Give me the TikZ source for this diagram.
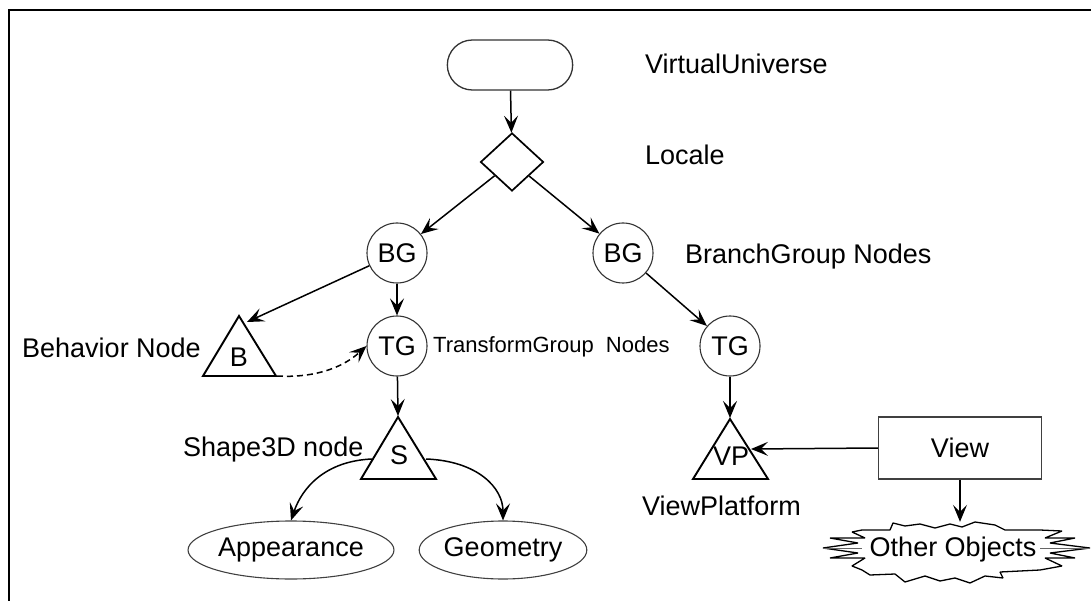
\documentclass[tikz,border=0pt]{standalone}
\usepackage{fontspec}
\setmainfont{Liberation Sans}
\usetikzlibrary{shapes.geometric,shapes.misc,arrows.meta}
\tikzset{
  big/.style={font=\fontsize{27}{32}\selectfont},
  small/.style={font=\fontsize{22}{26}\selectfont},
  grp/.style={circle, draw=black!80, line width=1.1pt, minimum size=60pt, inner sep=0pt, big},
  lbl/.style={anchor=west, big, inner sep=0pt},
  tri/.style={draw=black, line width=1.9pt, line join=miter},
  edge/.style={draw=black, line width=1.5pt, -{Stealth[length=17pt,width=14pt,inset=7pt]}},
  comp/.style={ellipse, draw=black!75, line width=1.1pt, minimum width=162pt, minimum height=58pt, inner sep=0pt, big},
}
\begin{document}
\begin{tikzpicture}[x=1pt,y=-1pt]
\useasboundingbox (0,0) rectangle (1091,601);
% frame
\draw[line width=2.2pt] (9,601) -- (9,10) -- (1091,10);

% root of the scene graph
\node[rounded rectangle, draw=black!80, line width=1.3pt, minimum width=132pt, minimum height=50pt] (vu) at (510,65) {};
\node[diamond, draw=black, line width=1.7pt, minimum width=63pt, minimum height=58pt, inner sep=0pt] (loc) at (512,162) {};

% group nodes
\node[grp] (bgl) at (397,253) {BG};
\node[grp] (bgr) at (623,253) {BG};
\node[grp] (tgl) at (397,346) {TG};
\node[grp] (tgr) at (730,346) {TG};

% leaf triangles
\draw[tri] (239,316) -- (276,376) -- (203,376) -- cycle;
\node[big, inner sep=0pt] (beh) at (239,357) {B};
\coordinate (behin) at (247,322);
\coordinate (behout) at (277,376);

\draw[tri] (398,417) -- (436,479) -- (361,479) -- cycle;
\node[big, inner sep=0pt] (shp) at (399,455) {S};
\coordinate (shptop) at (398,416);
\coordinate (shpl) at (372,459);
\coordinate (shpr) at (426,459);

\draw[tri] (730,419) -- (768,479) -- (693,479) -- cycle;
\node[big, inner sep=0pt] (vp) at (731,456) {VP};
\coordinate (vptop) at (730,418);
\coordinate (vpin) at (751,449);

% components
\node[comp] (app) at (291,550) {Appearance};
\node[comp, minimum width=160pt] (geo) at (503,550) {Geometry};
\node[rectangle, draw=black!75, line width=1.3pt, minimum width=163pt, minimum height=62pt, big] (view) at (960,448) {View};

% other objects burst
\draw[black, line width=1.3pt, line join=bevel]
  (862,530) -- (890,530) -- (893,523) -- (905,526) -- (920,524) -- (935,528) -- (950,524) -- (962,527)
  -- (975,522) -- (995,525) -- (1005,530) -- (1040,530)
  -- (1062,531) -- (1045,538) -- (1075,538) -- (1050,543) -- (1090,548) -- (1050,553) -- (1075,558)
  -- (1045,558) -- (1062,566) -- (1040,570)
  -- (1000,572) -- (1003,578) -- (985,576) -- (970,583) -- (955,578) -- (940,581) -- (925,576)
  -- (905,582) -- (895,574) -- (870,575) -- (862,570)
  -- (852,566) -- (865,558) -- (830,558) -- (858,553) -- (823,548) -- (858,543) -- (830,538)
  -- (865,538) -- (852,532) -- cycle;
\draw[black!60, line width=0.8pt] (823,548) -- (862,548) (1040,548) -- (1090,548);
\node[big, minimum width=180pt, minimum height=56pt, inner sep=0pt] (oo) at (953,550) {Other Objects};

% connectors
\draw[edge] (vu) -- (loc);
\draw[edge] (loc) -- (bgl);
\draw[edge] (loc) -- (bgr);
\draw[edge] (bgl) -- (behin);
\draw[edge] (bgl) -- (tgl);
\draw[edge] (bgr) -- (tgr);
\draw[edge, dashed, dash pattern=on 6pt off 4pt] (behout) .. controls (310,378) and (340,370) .. (tgl.west);
\draw[edge] (tgl) -- (shptop);
\draw[edge] (tgr) -- (vptop);
\draw[edge] (shpl) .. controls (325,461) and (302,488) .. (app.north);
\draw[edge] (shpr) .. controls (478,461) and (503,488) .. (geo.north);
\draw[edge] (view.west) -- (vpin);
\draw[edge] (view.south) -- (view.south |- oo.north);

% labels
\node[lbl] (lvu) at (645,64) {VirtualUniverse};
\node[lbl] (lloc) at (645,155) {Locale};
\node[lbl] (lbg) at (685,257) {BranchGroup Nodes};
\node[anchor=west, small, inner sep=0pt] (ltg) at (433,347) {TransformGroup\ \ Nodes};
\node[lbl] (lbeh) at (22,348) {Behavior Node};
\node[lbl] (lshp) at (183,450) {Shape3D node};
\node[lbl] (lvp) at (642,506) {ViewPlatform};
\end{tikzpicture}
\end{document}
